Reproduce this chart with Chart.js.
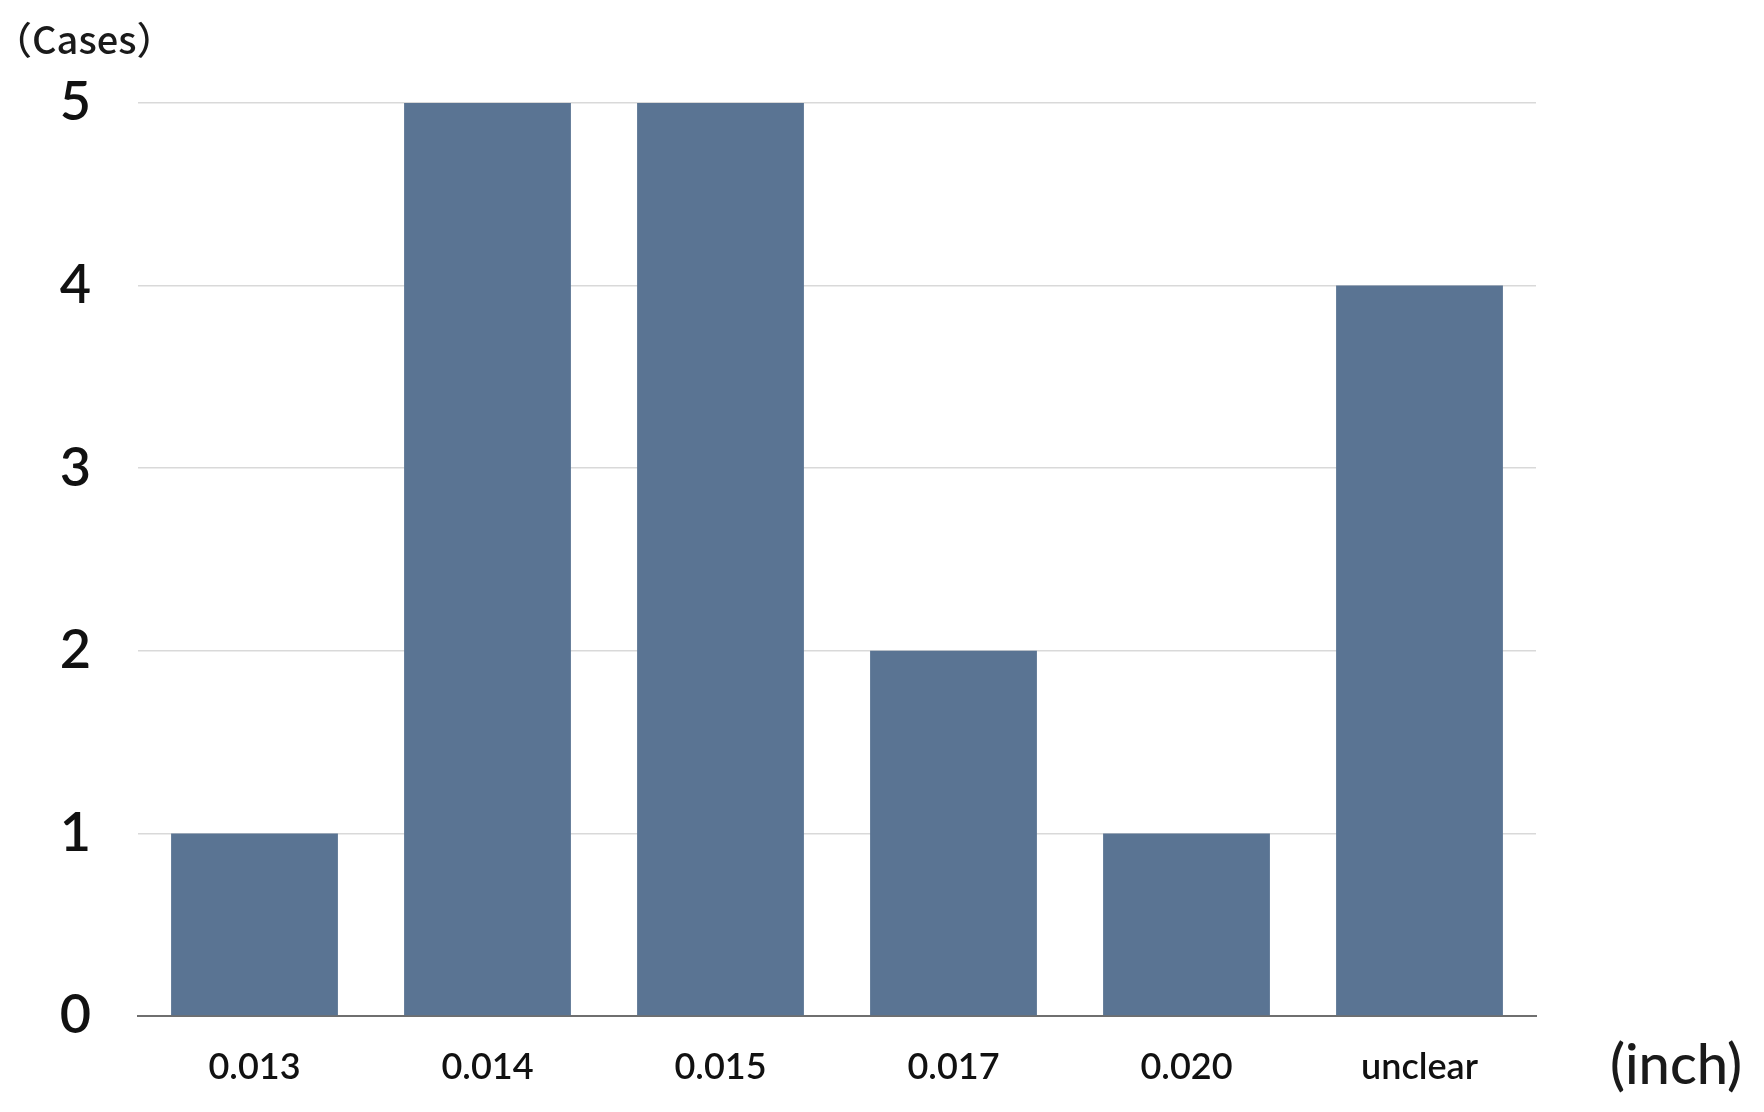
<!DOCTYPE html>
<html>
<head>
<meta charset="utf-8">
<script src="https://cdn.jsdelivr.net/npm/chart.js@4"></script>
<style>
  html, body { margin: 0; padding: 0; background: #fff; }
  #wrap { width: 1764px; height: 1112px; }
</style>
</head>
<body>
<div id="wrap"><canvas id="caseChart"></canvas></div>
<script>
const categories = ['0.013', '0.014', '0.015', '0.017', '0.020', 'unclear'];
const cases = [1, 5, 5, 2, 1, 4];
const yTicks = [0, 1, 2, 3, 4, 5];

const unitLabels = {
  id: 'unitLabels',
  afterDraw(chart) {
    const c = chart.ctx;
    const area = chart.chartArea;
    c.save();
    c.fillStyle = '#1a1a1a';
    c.textBaseline = 'middle';
    c.font = '500 38px "Noto Sans CJK JP", Lato, sans-serif';
    c.textAlign = 'left';
    c.fillText('（Cases）', -6, 40);
    c.font = '500 56px Lato, sans-serif';
    c.textAlign = 'center';
    c.fillText('(inch)', area.right + 140, area.bottom + 50);
    c.restore();
  }
};

const ctx = document.getElementById('caseChart').getContext('2d');
const chart = new Chart(ctx, {
  type: 'bar',
  data: {
    labels: categories,
    datasets: [{
      label: 'Cases',
      data: cases,
      backgroundColor: '#5a7493',
      categoryPercentage: 1,
      barPercentage: 0.716
    }]
  },
  options: {
    responsive: true,
    maintainAspectRatio: false,
    animation: false,
    layout: { padding: { top: 103, right: 228, bottom: 0, left: 0 } },
    plugins: {
      legend: { display: false },
      tooltip: { enabled: false }
    },
    scales: {
      x: {
        grid: { display: false },
        border: { display: true, color: '#6f6f6f', width: 2 },
        ticks: {
          color: '#111',
          font: { family: 'Lato', size: 36, weight: '600' },
          padding: 22,
          maxRotation: 0
        },
        afterFit(scale) { scale.height = 96; }
      },
      y: {
        min: 0,
        max: 5,
        afterBuildTicks(scale) { scale.ticks = yTicks.map(v => ({ value: v })); },
        grid: { color: '#d9d9d9', lineWidth: 1.5, drawTicks: false },
        border: { display: false },
        ticks: {
          color: '#111',
          font: { family: 'Lato', size: 54, weight: '600' },
          padding: 47
        },
        afterFit(scale) { scale.width = 138; }
      }
    }
  },
  plugins: [unitLabels]
});
</script>
</body>
</html>
